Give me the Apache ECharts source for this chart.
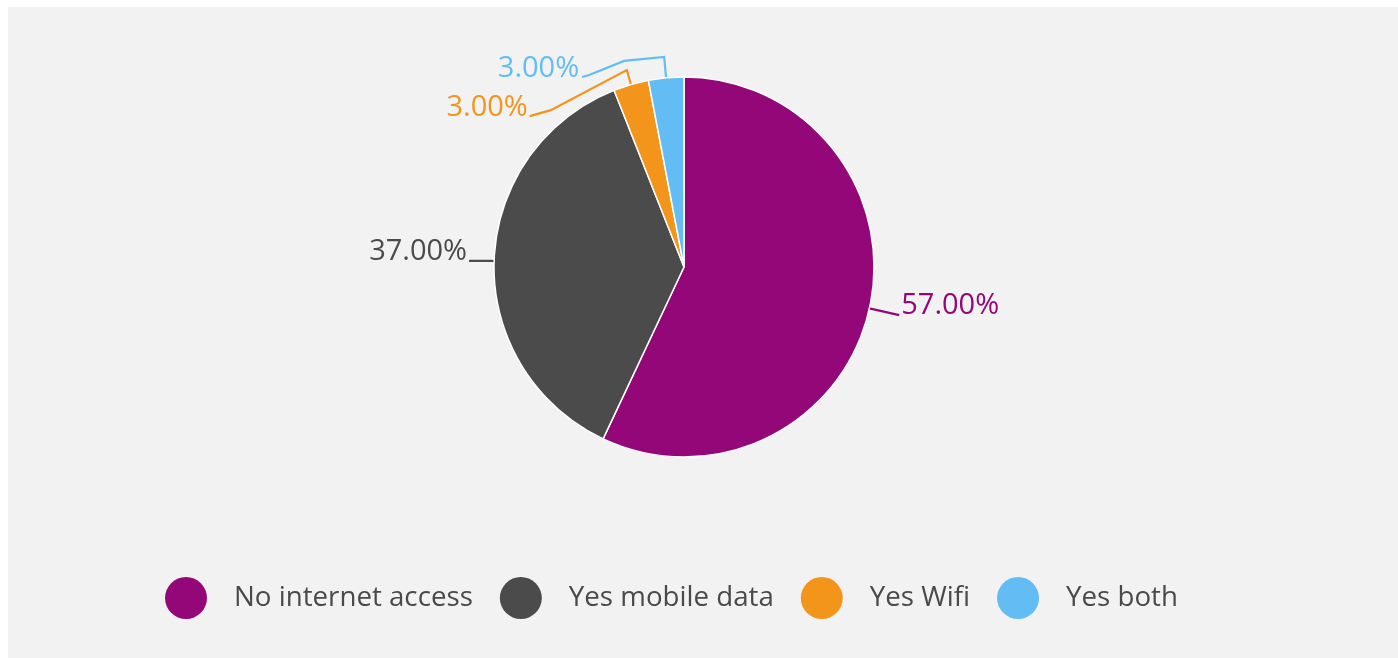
<!DOCTYPE html>
<html>
<head>
<meta charset="utf-8">
<script src="https://cdn.jsdelivr.net/npm/echarts@6/dist/echarts.min.js"></script>
<style>
  html, body { margin: 0; padding: 0; background: #ffffff; }
  #bg { position: absolute; left: 8px; top: 7px; right: 0; bottom: 0; background: #f2f2f2; }
  #chart { position: absolute; left: 0; top: 0; width: 1398px; height: 658px; }
</style>
</head>
<body>
<div id="bg"></div>
<div id="chart"></div>
<script>
// data
const categories = ['No internet access', 'Yes mobile data', 'Yes Wifi', 'Yes both'];
const values = [57, 37, 3, 3];
const colors = ['#930779', '#4b4b4b', '#f3941b', '#63bdf4'];

// leader line lengths per slice
const lineLen = [8, 3, 15, 21];
const lineLen2 = [22, 22, 10, 10];

const chartDom = document.getElementById('chart');
const myChart = echarts.init(chartDom, null, { renderer: 'canvas' });

const fontFamily = '"Open Sans", "Noto Sans", sans-serif';

// bend the leader lines of the two thin slices like the original
const placeLabel = (params) => {
  const i = params.dataIndex;
  const pts = params.labelLinePoints;
  if (!pts) return {};
  const p0 = pts[0], p1 = pts[1], p2 = pts[2];
  if (i === 0) {
    const end = [p2[0], p2[1] + 5];
    return {
      x: end[0] + 2, y: end[1] - 9, align: 'left', verticalAlign: 'middle',
      labelLinePoints: [p0, end]
    };
  }
  if (i === 1) {
    return {
      x: p2[0] - 2, y: p2[1] - 9, align: 'right', verticalAlign: 'middle',
      labelLinePoints: [p0, p1, p2]
    };
  }
  if (i === 2) {
    const end = [p1[0] - 97, p1[1] + 46];
    const mid = [end[0] + 21, end[1] - 6];
    return {
      x: end[0] - 2, y: end[1] - 8, align: 'right', verticalAlign: 'middle',
      labelLinePoints: [p0, p1, mid, end]
    };
  }
  const end = [p1[0] - 82, p1[1] + 20];
  const mid1 = [p1[0] - 40, p1[1] + 4];
  const mid2 = [end[0] + 7, end[1] - 2];
  return {
    x: end[0] - 3, y: end[1] - 8, align: 'right', verticalAlign: 'middle',
    labelLinePoints: [p0, p1, mid1, mid2, end]
  };
};

let option = {
  backgroundColor: 'transparent',
  animation: false,
  color: colors,
  legend: {
    data: categories,
    left: 165,
    top: 577,
    padding: 0,
    icon: 'circle',
    itemWidth: 42,
    itemHeight: 42,
    itemGap: 27,
    itemStyle: { borderWidth: 0 },
    textStyle: {
      fontFamily: fontFamily,
      fontSize: 27.7,
      color: '#4a4a4a',
      padding: [0, 0, 0, 22]
    }
  },
  series: [
    {
      type: 'pie',
      center: [684, 267],
      radius: 190,
      startAngle: 90,
      clockwise: true,
      avoidLabelOverlap: false,
      itemStyle: {
        borderColor: '#ffffff',
        borderWidth: 1.5
      },
      label: {
        show: true,
        fontFamily: fontFamily,
        fontSize: 29,
        distanceToLabelLine: 2,
        formatter: (p) => p.value.toFixed(2) + '%'
      },
      labelLine: {
        show: true,
        lineStyle: { width: 2.2 }
      },
      labelLayout: placeLabel,
      emphasis: { disabled: true },
      data: categories.map((name, i) => ({
        name: name,
        value: values[i],
        label: { color: colors[i] },
        labelLine: {
          length: lineLen[i],
          length2: lineLen2[i],
          lineStyle: { color: colors[i] }
        }
      }))
    }
  ]
};

option && myChart.setOption(option);
</script>
</body>
</html>
